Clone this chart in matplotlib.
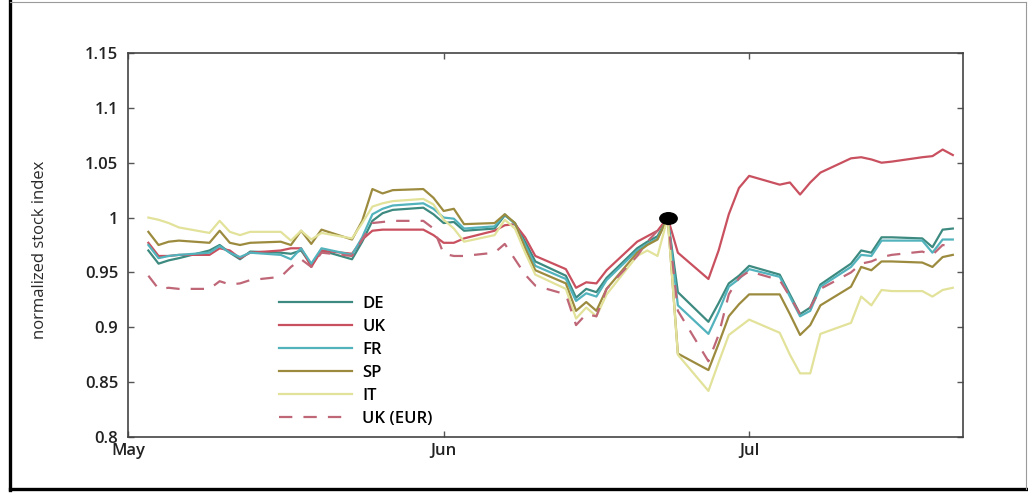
import numpy as np
import matplotlib
matplotlib.use('Agg')
import matplotlib.pyplot as plt
from matplotlib.path import Path
from matplotlib.transforms import Affine2D
from matplotlib.lines import Line2D
from matplotlib import font_manager

# ---------------- data ----------------
dates = ["2016-05-03", "2016-05-04", "2016-05-05", "2016-05-06",
         "2016-05-09", "2016-05-10", "2016-05-11", "2016-05-12", "2016-05-13",
         "2016-05-16", "2016-05-17", "2016-05-18", "2016-05-19", "2016-05-20",
         "2016-05-23", "2016-05-24", "2016-05-25", "2016-05-26", "2016-05-27",
         "2016-05-30", "2016-05-31", "2016-06-01", "2016-06-02", "2016-06-03",
         "2016-06-06", "2016-06-07", "2016-06-08", "2016-06-09", "2016-06-10",
         "2016-06-13", "2016-06-14", "2016-06-15", "2016-06-16", "2016-06-17",
         "2016-06-20", "2016-06-21", "2016-06-22", "2016-06-23", "2016-06-24",
         "2016-06-27", "2016-06-28", "2016-06-29", "2016-06-30", "2016-07-01",
         "2016-07-04", "2016-07-05", "2016-07-06", "2016-07-07", "2016-07-08",
         "2016-07-11", "2016-07-12", "2016-07-13", "2016-07-14", "2016-07-15",
         "2016-07-18", "2016-07-19", "2016-07-20", "2016-07-21"]

de = [0.970, 0.958, 0.961, 0.963,
      0.970, 0.975, 0.968, 0.962, 0.969,
      0.968, 0.967, 0.970, 0.957, 0.970,
      0.962, 0.978, 0.997, 1.004, 1.007,
      1.009, 1.003, 0.995, 0.996, 0.988,
      0.990, 1.002, 0.995, 0.978, 0.960,
      0.947, 0.927, 0.935, 0.932, 0.945,
      0.972, 0.978, 0.983, 1.000, 0.932,
      0.905, 0.922, 0.940, 0.947, 0.956,
      0.948, 0.930, 0.912, 0.918, 0.939,
      0.958, 0.970, 0.968, 0.982, 0.982,
      0.981, 0.973, 0.989, 0.990]

uk = [0.977, 0.965, 0.965, 0.966,
      0.966, 0.972, 0.970, 0.963, 0.968,
      0.970, 0.972, 0.972, 0.955, 0.970,
      0.967, 0.980, 0.988, 0.989, 0.989,
      0.989, 0.984, 0.977, 0.977, 0.981,
      0.988, 0.993, 0.994, 0.982, 0.965,
      0.953, 0.936, 0.941, 0.940, 0.952,
      0.978, 0.983, 0.988, 1.000, 0.968,
      0.944, 0.970, 1.003, 1.027, 1.038,
      1.030, 1.032, 1.021, 1.032, 1.041,
      1.054, 1.055, 1.053, 1.050, 1.051,
      1.055, 1.056, 1.062, 1.057]

fr = [0.975, 0.963, 0.965, 0.966,
      0.968, 0.974, 0.968, 0.964, 0.968,
      0.966, 0.962, 0.972, 0.958, 0.972,
      0.966, 0.982, 1.003, 1.008, 1.011,
      1.013, 1.008, 1.000, 0.999, 0.990,
      0.992, 1.003, 0.994, 0.975, 0.956,
      0.944, 0.924, 0.931, 0.928, 0.943,
      0.970, 0.976, 0.981, 1.000, 0.920,
      0.894, 0.914, 0.937, 0.944, 0.953,
      0.946, 0.928, 0.910, 0.915, 0.937,
      0.955, 0.966, 0.965, 0.979, 0.979,
      0.979, 0.968, 0.980, 0.980]

sp = [0.987, 0.975, 0.978, 0.979,
      0.977, 0.988, 0.977, 0.975, 0.977,
      0.978, 0.975, 0.988, 0.976, 0.989,
      0.980, 0.997, 1.026, 1.022, 1.025,
      1.026, 1.018, 1.006, 1.008, 0.994,
      0.995, 1.003, 0.995, 0.972, 0.952,
      0.940, 0.915, 0.923, 0.915, 0.935,
      0.968, 0.975, 0.980, 1.000, 0.876,
      0.861, 0.885, 0.910, 0.921, 0.930,
      0.930, 0.912, 0.893, 0.902, 0.920,
      0.937, 0.955, 0.952, 0.960, 0.960,
      0.959, 0.955, 0.964, 0.966]

it = [1.000, 0.998, 0.995, 0.991,
      0.986, 0.997, 0.987, 0.984, 0.987,
      0.987, 0.979, 0.988, 0.980, 0.986,
      0.981, 0.995, 1.010, 1.013, 1.015,
      1.017, 1.012, 0.998, 0.990, 0.978,
      0.984, 0.998, 0.990, 0.968, 0.948,
      0.935, 0.908, 0.918, 0.910, 0.930,
      0.965, 0.970, 0.965, 1.000, 0.875,
      0.842, 0.868, 0.893, 0.900, 0.907,
      0.895, 0.875, 0.858, 0.858, 0.894,
      0.904, 0.928, 0.920, 0.934, 0.933,
      0.933, 0.928, 0.934, 0.936]

uk_eur = [0.947, 0.935, 0.936, 0.935,
          0.935, 0.942, 0.939, 0.940, 0.943,
          0.946, 0.955, 0.962, 0.955, 0.968,
          0.965, 0.980, 0.995, 0.996, 0.997,
          0.997, 0.990, 0.967, 0.965, 0.965,
          0.968, 0.976, 0.962, 0.948, 0.938,
          0.930, 0.902, 0.912, 0.910, 0.935,
          0.965, 0.978, 0.988, 1.000, 0.915,
          0.869, 0.893, 0.930, 0.945, 0.951,
          0.943, 0.928, 0.912, 0.918, 0.935,
          0.950, 0.958, 0.960, 0.964, 0.966,
          0.969, 0.966, 0.975, 0.974]

labels = ["DE", "UK", "FR", "SP", "IT", "UK (EUR)"]
event_date = "2016-06-23"
event_value = 1.0

ytick_vals = [0.8, 0.85, 0.9, 0.95, 1.0, 1.05, 1.1, 1.15]
ytick_labels = ["0.8", "0.85", "0.9", "0.95", "1", "1.05", "1.1", "1.15"]
xtick_dates = ["2016-05-01", "2016-06-01", "2016-07-01"]
xtick_labels = ["May", "Jun", "Jul"]

# ---------------- style ----------------
names = {f.name for f in font_manager.fontManager.ttflist}
main_font = "Open Sans" if "Open Sans" in names else "DejaVu Sans"
narrow_font = "Liberation Sans Narrow" if "Liberation Sans Narrow" in names else main_font

colors = ["#3d8a80", "#c9505f", "#52b3bd", "#9c8b3e", "#e2e29a", "#bf6677"]

W, H = 1028, 495
fig = plt.figure(figsize=(W / 100, H / 100), dpi=100)
ax = fig.add_axes([128 / W, 1 - 437 / H, (963 - 128) / W, (437 - 53) / H])

x = np.array(dates, dtype="datetime64[D]")
series = [de, uk, fr, sp, it, uk_eur]
handles = []
for vals, lab, col in zip(series, labels, colors):
    if lab == "UK (EUR)":
        h, = ax.plot(x, vals, color=col, lw=1.6, dashes=(6, 5), label=lab, zorder=3)
    else:
        h, = ax.plot(x, vals, color=col, lw=1.6, label=lab, zorder=2)
    handles.append(h)

ell = Path.unit_circle().transformed(Affine2D().scale(1.5, 1.0))
ax.plot([np.datetime64(event_date)], [event_value], marker=ell, ms=12.5,
        color="black", zorder=10, linestyle="none")

ax.set_xlim(np.datetime64("2016-05-01"), np.datetime64("2016-07-22"))
ax.set_ylim(0.8, 1.15)
ax.set_yticks(ytick_vals)
ax.set_yticklabels(ytick_labels)
ax.set_xticks(np.array(xtick_dates, dtype="datetime64[D]"))
ax.set_xticklabels(xtick_labels)

for sp_ in ax.spines.values():
    sp_.set_color("#444444")
    sp_.set_linewidth(1.2)
ax.tick_params(axis="both", direction="in", length=4, width=1.0, colors="#555555",
               top=True, right=True, labelcolor="#222222", labelsize=12)
ax.tick_params(axis="y", pad=7)
ax.tick_params(axis="x", pad=4)
for lab in ax.get_xticklabels() + ax.get_yticklabels():
    lab.set_family(main_font)
    lab.set_fontweight("semibold")

ax.legend(handles, labels, loc="upper left",
          bbox_to_anchor=(279 / W, 1 - 296 / H), bbox_transform=fig.transFigure,
          frameon=False, handlelength=4.4, handletextpad=0.6, labelspacing=0.42,
          borderpad=0, borderaxespad=0,
          prop={"family": main_font, "size": 12, "weight": "semibold"})

fig.text(40 / W, 1 - 250 / H, "normalized stock index", rotation=90,
         ha="center", va="center", fontsize=12, family=narrow_font, color="#2a2a2a")

# outer frame
fig.add_artist(Line2D([10 / W, 10 / W], [1 - 490 / H, 1 - 1 / H], transform=fig.transFigure,
                      color="black", lw=2.4))
fig.add_artist(Line2D([10 / W, 1.0], [1 - 489 / H, 1 - 489 / H], transform=fig.transFigure,
                      color="black", lw=2.4))
fig.add_artist(Line2D([10 / W, 1026 / W], [1 - 1.5 / H, 1 - 1.5 / H], transform=fig.transFigure,
                      color="#9a9a9a", lw=0.8))
fig.add_artist(Line2D([1026 / W, 1026 / W], [1 - 489 / H, 1 - 1.5 / H], transform=fig.transFigure,
                      color="#9a9a9a", lw=0.8))

fig.savefig("out.png", dpi=100)
